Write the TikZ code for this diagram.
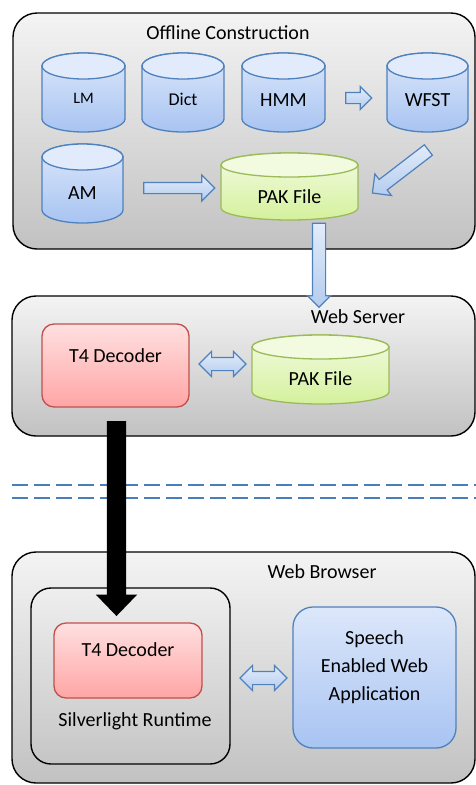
\documentclass[tikz,border=0pt]{standalone}
\usepackage{fontspec}
\setmainfont{Carlito}
\usetikzlibrary{shapes.arrows,calc}
\definecolor{blueTop}{HTML}{DCE7FA}
\definecolor{blueBot}{HTML}{A8C4F2}
\definecolor{blueLid}{HTML}{E2EBFB}
\definecolor{blueEdge}{HTML}{4F81BD}
\definecolor{greenTop}{HTML}{F3FBE3}
\definecolor{greenBot}{HTML}{D4F19C}
\definecolor{greenLid}{HTML}{F2FADF}
\definecolor{greenEdge}{HTML}{9BBB59}
\definecolor{redTop}{HTML}{FFE0E0}
\definecolor{redBot}{HTML}{FFA5A5}
\definecolor{redEdge}{HTML}{C0504D}
\definecolor{arrTop}{HTML}{E2ECFA}
\definecolor{arrBot}{HTML}{B4CCEE}
\definecolor{dashBlue}{HTML}{4A7EBB}
\tikzset{
  graybox/.style={draw=black, line width=1.4pt, rounded corners=24pt, top color=gray!9, bottom color=gray!48, inner sep=0pt, outer sep=0pt},
  innerbox/.style={draw=black, line width=1.4pt, rounded corners=20pt, top color=gray!13, bottom color=gray!45, inner sep=0pt, outer sep=0pt},
  lbl/.style={inner sep=0pt, outer sep=0pt, align=center},
  bluecyl/.style={draw=blueEdge, line width=1.3pt, top color=blueTop, bottom color=blueBot},
  bluecyllid/.style={draw=blueEdge, line width=1.3pt, fill=blueLid},
  greencyl/.style={draw=greenEdge, line width=1.3pt, top color=greenTop, bottom color=greenBot},
  greencyllid/.style={draw=greenEdge, line width=1.3pt, fill=greenLid},
  redbox/.style={draw=redEdge, line width=1.3pt, rounded corners=12pt, top color=redTop, bottom color=redBot, inner sep=0pt, outer sep=0pt},
  bluebox/.style={draw=blueEdge, line width=1.3pt, rounded corners=20pt, top color=blueTop, bottom color=blueBot, inner sep=0pt, outer sep=0pt},
  barrow/.style={single arrow, draw=blueEdge, line width=1.2pt, top color=arrTop, bottom color=arrBot, inner xsep=0pt, outer sep=0pt, single arrow tip angle=90, single arrow head indent=0pt},
  dbarrow/.style={double arrow, draw=blueEdge, line width=1.2pt, top color=arrTop, bottom color=arrBot, inner xsep=0pt, outer sep=0pt, inner ysep=6pt, double arrow head extend=6pt, double arrow tip angle=90},
  blackarrow/.style={single arrow, fill=black, inner xsep=0pt, outer sep=0pt, inner ysep=9.5pt, single arrow head extend=11pt, single arrow tip angle=88},
  dashline/.style={draw=dashBlue, line width=1.5pt, dash pattern=on 16pt off 6pt}
}
% name, cx, cy, w, h, ry, style, text y, text
\newcommand\cylshape[9]{%
  \path[#7] ({#2-#4/2},{-#3+#5/2-#6}) -- ({#2-#4/2},{-#3-#5/2+#6})
    arc[start angle=180, end angle=360, x radius=#4/2, y radius=#6]
    -- ({#2+#4/2},{-#3+#5/2-#6})
    arc[start angle=0, end angle=180, x radius=#4/2, y radius=#6] -- cycle;
  \path[#7lid] (#2,{-#3+#5/2-#6}) ellipse[x radius=#4/2, y radius=#6];
  \node[inner sep=0pt, outer sep=0pt, minimum width=#4, minimum height=#5] (#1) at (#2,-#3) {};
  \node[lbl] (#1-t) at (#2,-#8) {#9};
}
% style, from, to
\newcommand\blockarr[3][]{%
  \path let \p1=($(#3)-(#2)$), \n1={atan2(\y1,\x1)}, \n2={veclen(\x1,\y1)} in
    node[#1, rotate=\n1, minimum height=\n2] at ($(#2)!0.5!(#3)$) {};
}
\begin{document}
\begin{tikzpicture}[x=1pt, y=1pt, font=\fontsize{20}{28}\selectfont]
\useasboundingbox (0,0) rectangle (476,-785);

% ---------- containers
\node[graybox, minimum width=462, minimum height=236, anchor=north west] (offline) at (13,-13) {};
\node[lbl] (offline-t) at (228,-33) {Offline Construction};

\node[graybox, minimum width=463, minimum height=140, anchor=north west] (server) at (12,-296) {};
\node[lbl] (server-t) at (358,-317) {Web Server};

\node[graybox, minimum width=463, minimum height=231, anchor=north west] (browser) at (12,-552) {};
\node[lbl] (browser-t) at (322,-572) {Web Browser};

% ---------- dashed separator
\coordinate (d1s) at (12,-485);
\coordinate (d1e) at (476,-485);
\coordinate (d2s) at (12,-498);
\coordinate (d2e) at (476,-498);
\draw[dashline] (d1s) -- (d1e);
\draw[dashline] (d2s) -- (d2e);

% ---------- offline construction
\cylshape{lm}{83.5}{92.5}{83}{79}{13}{bluecyl}{98}{\fontsize{16}{20}\selectfont LM}
\cylshape{dict}{183}{92.5}{82}{79}{13}{bluecyl}{99}{\fontsize{18}{22}\selectfont Dict}
\cylshape{hmm}{283.5}{92.5}{83}{79}{13}{bluecyl}{100}{HMM}
\cylshape{wfst}{427.5}{92.5}{81}{79}{13}{bluecyl}{100}{WFST}
\cylshape{am}{82.5}{183.5}{81}{79}{13}{bluecyl}{193}{AM}
\cylshape{pak1}{289.5}{186.5}{137}{67}{12}{greencyl}{197}{PAK File}

\coordinate (h2w-s) at (343,-98);
\coordinate (h2w-e) at (369,-98);
\blockarr[barrow, inner ysep=5pt, single arrow head extend=6pt]{h2w-s}{h2w-e}

\coordinate (a2p-s) at (141,-188);
\coordinate (a2p-e) at (212,-188);
\blockarr[barrow, inner ysep=5pt, single arrow head extend=7.5pt]{a2p-s}{a2p-e}

\coordinate (w2p-s) at (431,-148);
\coordinate (w2p-e) at (375,-191);
\blockarr[barrow, inner ysep=6pt, single arrow head extend=7pt]{w2p-s}{w2p-e}

\coordinate (p2s-s) at (319,-220);
\coordinate (p2s-e) at (319,-304);
\blockarr[barrow, inner ysep=6pt, single arrow head extend=5pt]{p2s-s}{p2s-e}

% ---------- web server
\node[redbox, minimum width=147, minimum height=83, anchor=north west] (t4a) at (42,-324) {};
\node[lbl] (t4a-t) at ($(t4a.north)+(0,-32)$) {T4 Decoder};
\cylshape{pak2}{320.5}{369.5}{137}{69}{12}{greencyl}{379}{PAK File}
\coordinate (sv-s) at (199,-364);
\coordinate (sv-e) at (246,-364);
\blockarr[dbarrow]{sv-s}{sv-e}

% ---------- web browser
\node[innerbox, minimum width=199, minimum height=176, anchor=north west] (silver) at (31,-588) {};
\node[redbox, minimum width=148, minimum height=75, anchor=north west] (t4b) at (54,-623) {};
\node[lbl] (t4b-t) at ($(t4b.north)+(0,-27)$) {T4 Decoder};
\node[lbl] (silver-t) at (135,-721) {Silverlight Runtime};
\node[bluebox, minimum width=163, minimum height=141, anchor=north west] (app) at (293,-607) {};
\node[lbl] (app-t) at (374.5,-667) {Speech\\Enabled Web\\Application};
\coordinate (br-s) at (240,-678);
\coordinate (br-e) at (287,-678);
\blockarr[dbarrow]{br-s}{br-e}

% ---------- download arrow
\coordinate (dl-s) at (116.5,-416);
\coordinate (dl-e) at (116.5,-611);
\blockarr[blackarrow]{dl-s}{dl-e}
\end{tikzpicture}
\end{document}
